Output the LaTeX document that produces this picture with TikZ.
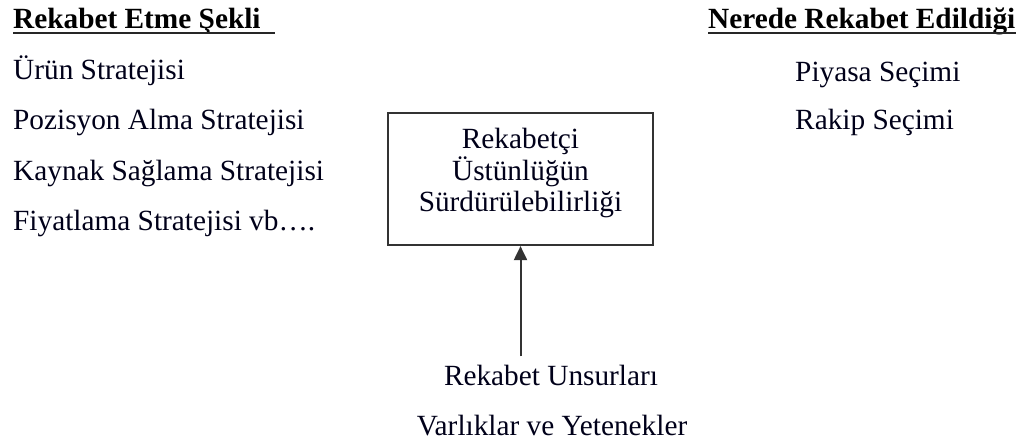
\documentclass[tikz,border=0pt]{standalone}
\usepackage{fontspec}
\setmainfont{Liberation Serif}
\usetikzlibrary{arrows.meta}
\begin{document}
\begin{tikzpicture}[x=1pt,y=-1pt,
  txt/.style={inner sep=0pt, font=\fontsize{29.3}{30}\selectfont, text=black!90!blue},
  hdr/.style={txt, font=\fontsize{29.3}{30}\selectfont\bfseries, text=black},
  uline/.style={line width=2.4pt, black!85},
  boxstyle/.style={draw=black!80, line width=2.2pt, minimum width=265pt, minimum height=132pt, inner sep=0pt},
  conn/.style={line width=2pt, black!80, -{Triangle[length=14pt, width=13pt]}}]
\useasboundingbox (0,0) rectangle (1030,443);
% left column
\node[hdr, anchor=base west] (h1) at (13,29) {Rekabet Etme Şekli};
\coordinate (h1end) at (275,33);
\draw[uline] (h1.base west) ++(0,4) -- (h1end);
\node[txt, anchor=base west] (l1) at (13,80) {Ürün Stratejisi};
\node[txt, anchor=base west] (l2) at (13,130) {Pozisyon Alma Stratejisi};
\node[txt, anchor=base west] (l3) at (13,180.5) {Kaynak Sağlama Stratejisi};
\node[txt, anchor=base west] (l4) at (13,231) {Fiyatlama Stratejisi vb….};
% right column
\node[hdr, anchor=base west] (h2) at (708,29) {Nerede Rekabet Edildiği};
\draw[uline] (h2.base west) ++(0,4) -- ++(308,0);
\node[txt, anchor=base west] (r1) at (795,82) {Piyasa Seçimi};
\node[txt, anchor=base west] (r2) at (795,130) {Rakip Seçimi};
% central box
\node[boxstyle] (box) at (520.5,179) {};
\node[txt, anchor=base] (b1) at (520.5,149) {Rekabetçi};
\node[txt, anchor=base] (b2) at (520.5,180.5) {Üstünlüğün};
\node[txt, anchor=base] (b3) at (520.5,212) {Sürdürülebilirliği};
% bottom
\node[txt, anchor=base] (u1) at (551,385) {Rekabet Unsurları};
\node[txt, anchor=base] (u2) at (552,435) {Varlıklar ve Yetenekler};
\draw[conn] (box.south |- u1.north) ++(0,-8) -- (box.south);
\end{tikzpicture}
\end{document}
